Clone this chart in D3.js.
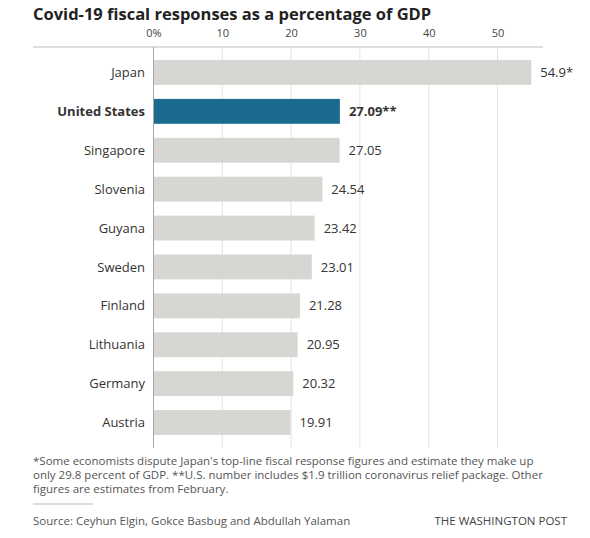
<!DOCTYPE html>
<html><head><meta charset="utf-8">
<script src="https://cdn.jsdelivr.net/npm/d3@7"></script>
<style>body{margin:0;background:#fff;} svg{display:block;}</style>
</head><body>
<script>
const countries = ["Japan","United States","Singapore","Slovenia","Guyana","Sweden","Finland","Lithuania","Germany","Austria"];
const values = [54.9,27.09,27.05,24.54,23.42,23.01,21.28,20.95,20.32,19.91];
const valueLabels = ["54.9*","27.09**","27.05","24.54","23.42","23.01","21.28","20.95","20.32","19.91"];
const highlight = "United States";
const tickValues = [0,10,20,30,40,50];
const tickLabels = ["0%","10","20","30","40","50"];
const title = "Covid-19 fiscal responses as a percentage of GDP";
const notes = ["*Some economists dispute Japan's top-line fiscal response figures and estimate they make up",
  "only 29.8 percent of GDP. **U.S. number includes $1.9 trillion coronavirus relief package. Other",
  "figures are estimates from February."];
const source = "Source: Ceyhun Elgin, Gokce Basbug and Abdullah Yalaman";
const credit = "THE WASHINGTON POST";

const W=590,H=538;
const font="'Open Sans', Roboto, sans-serif";
const svg=d3.select("body").append("svg").attr("width",W).attr("height",H);

const x=d3.scaleLinear().domain([0,50]).range([153.5,497.5]);
const y=d3.scaleBand().domain(countries).range([53,442]).paddingInner(0.36).paddingOuter(0.18);

svg.append("text").attr("x",33).attr("y",20).attr("font-family",font).attr("font-weight",700)
  .attr("font-size",16.5).attr("fill","#222").text(title);

// top line
svg.append("line").attr("x1",33).attr("x2",543).attr("y1",47).attr("y2",47).attr("stroke","#bbb").attr("stroke-width",1.2);

// gridlines
const axis=d3.axisTop(x).tickValues(tickValues).tickFormat((d,i)=>tickLabels[i]).tickSize(0);
const g=svg.append("g").attr("transform","translate(0,40)").call(axis);
g.select(".domain").remove();
g.selectAll("text").attr("font-family",font).attr("font-size",11).attr("fill","#444").attr("dy",0);

svg.append("g").selectAll("line").data(tickValues).join("line")
  .attr("x1",d=>x(d)).attr("x2",d=>x(d)).attr("y1",47).attr("y2",448)
  .attr("stroke",d=>d===0?"#aaa":"#e2e2e2").attr("stroke-width",1);

svg.append("g").selectAll("rect").data(countries).join("rect")
  .attr("x",x(0)+0.5).attr("y",d=>y(d)).attr("height",y.bandwidth())
  .attr("width",(d,i)=>x(values[i])-x(0)-0.5)
  .attr("fill",d=>d===highlight?"#1a6b8e":"#d6d6d3");

svg.append("g").selectAll("text").data(countries).join("text")
  .attr("x",145).attr("y",d=>y(d)+y.bandwidth()/2).attr("dy","0.35em").attr("text-anchor","end")
  .attr("font-family",font).attr("font-size",13).attr("fill","#333")
  .attr("font-weight",d=>d===highlight?700:400).text(d=>d);

svg.append("g").selectAll("text").data(countries).join("text")
  .attr("x",(d,i)=>x(values[i])+9).attr("y",d=>y(d)+y.bandwidth()/2).attr("dy","0.35em")
  .attr("font-family",font).attr("font-size",13).attr("fill","#333")
  .attr("font-weight",d=>d===highlight?700:400).text((d,i)=>valueLabels[i]);

svg.append("g").selectAll("text").data(notes).join("text")
  .attr("x",33).attr("y",(d,i)=>465+i*14).attr("font-family",font).attr("font-size",11.5)
  .attr("fill","#555").text(d=>d);

svg.append("line").attr("x1",33).attr("x2",93).attr("y1",504).attr("y2",504).attr("stroke","#bbb");
svg.append("text").attr("x",33).attr("y",525).attr("font-family",font).attr("font-size",11.5).attr("fill","#555").text(source);
svg.append("text").attr("x",567).attr("y",525).attr("text-anchor","end").attr("font-family",font).attr("font-size",11.5).attr("fill","#444").text(credit);
</script>
</body></html>
